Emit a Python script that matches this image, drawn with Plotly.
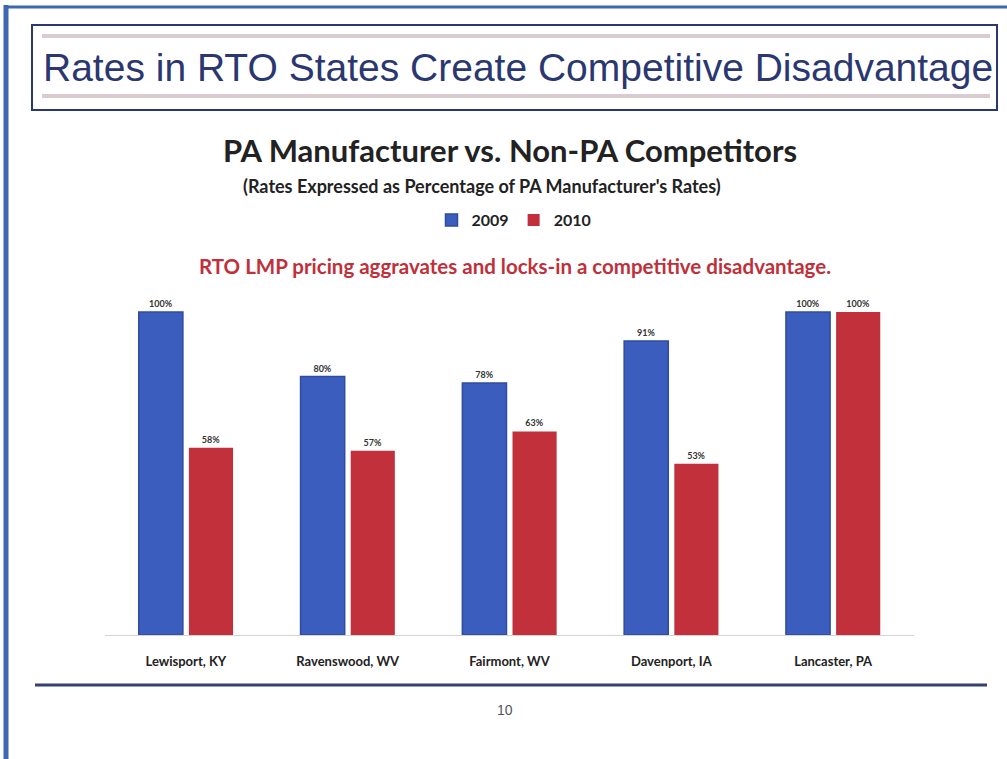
import plotly.graph_objects as go

# Sites compared and their rates as a percentage of the PA manufacturer's rate
sites = ["Lewisport, KY", "Ravenswood, WV", "Fairmont, WV", "Davenport, IA", "Lancaster, PA"]
rates_2009 = [100, 80, 78, 91, 100]
rates_2010 = [58, 57, 63, 53, 100]
series_names = ["2009", "2010"]

W, H = 1007, 759
BLUE = "#3b5dbe"
BLUE_EDGE = "#2f4c9f"
RED = "#c1303b"
NAVY = "#2b3770"
LABEL = "#333333"
CHART_FONT = "Lato"


def px(x):
    return x / W


def py(y):
    return 1 - y / H


fig = go.Figure()
fig.add_trace(go.Bar(
    name=series_names[0], x=sites, y=rates_2009,
    marker=dict(color=BLUE, line=dict(color=BLUE_EDGE, width=1.5)),
    text=[f"{v}%" for v in rates_2009], textposition="outside",
    textfont=dict(family=CHART_FONT, size=9, color=LABEL, weight="bold"),
    cliponaxis=False,
))
fig.add_trace(go.Bar(
    name=series_names[1], x=sites, y=rates_2010,
    marker=dict(color=RED, line=dict(color=RED, width=0)),
    text=[f"{v}%" for v in rates_2010], textposition="outside",
    textfont=dict(family=CHART_FONT, size=9, color=LABEL, weight="bold"),
    cliponaxis=False,
))

shapes = [
    # slide frame: top and left blue borders
    dict(type="line", xref="paper", yref="paper", x0=px(4), x1=px(1007), y0=py(7), y1=py(7),
         line=dict(color="#3d66b3", width=3)),
    dict(type="line", xref="paper", yref="paper", x0=px(6), x1=px(6), y0=py(5), y1=py(759),
         line=dict(color="#3d66b3", width=5)),
    # heading box
    dict(type="rect", xref="paper", yref="paper", x0=px(32), x1=px(997), y0=py(25), y1=py(110),
         line=dict(color=NAVY, width=2)),
    dict(type="line", xref="paper", yref="paper", x0=px(42), x1=px(990), y0=py(36), y1=py(36),
         line=dict(color="#d9ccd0", width=4)),
    dict(type="line", xref="paper", yref="paper", x0=px(42), x1=px(990), y0=py(96), y1=py(96),
         line=dict(color="#d9ccd0", width=4)),
    # footer rule
    dict(type="line", xref="paper", yref="paper", x0=px(35), x1=px(987), y0=py(685), y1=py(685),
         line=dict(color="#34416e", width=3)),
]

annotations = [
    dict(text="Rates in RTO States Create Competitive Disadvantage", xref="paper", yref="paper",
         x=px(518), y=py(68), showarrow=False, xanchor="center", yanchor="middle",
         font=dict(family="Liberation Sans", size=39, color=NAVY)),
    dict(text="<b>PA Manufacturer vs. Non-PA Competitors</b>", xref="paper", yref="paper",
         x=px(510), y=py(150), showarrow=False, xanchor="center", yanchor="middle",
         font=dict(family=CHART_FONT, size=31, color="#222222")),
    dict(text="<b>(Rates Expressed as Percentage of PA Manufacturer's Rates)</b>", xref="paper", yref="paper",
         x=px(482), y=py(186), showarrow=False, xanchor="center", yanchor="middle",
         font=dict(family=CHART_FONT, size=18, color="#222222")),
    dict(text="<b>RTO LMP pricing aggravates and locks-in a competitive disadvantage.</b>", xref="paper",
         yref="paper", x=px(515), y=py(266), showarrow=False, xanchor="center", yanchor="middle",
         font=dict(family=CHART_FONT, size=20.5, color="#c0303a")),
    dict(text="10", xref="paper", yref="paper", x=px(505), y=py(710), showarrow=False,
         xanchor="center", yanchor="middle",
         font=dict(family="Liberation Sans", size=14, color="#555555")),
]

fig.update_layout(
    width=W, height=H,
    margin=dict(l=0, r=0, t=0, b=0),
    paper_bgcolor="white", plot_bgcolor="white",
    barmode="group", bargap=0.38, bargroupgap=0.12,
    showlegend=True,
    legend=dict(orientation="h", x=px(514), y=py(220), xanchor="center", yanchor="middle",
                font=dict(family=CHART_FONT, size=16, color="#222222", weight="bold"),
                itemwidth=30, traceorder="normal"),
    xaxis=dict(domain=[px(105), px(914)], showline=True, linecolor="#d4d4d4", linewidth=1,
               ticks="", showgrid=False, ticklabelstandoff=14,
               tickfont=dict(family=CHART_FONT, size=13, color="#222222", weight="bold")),
    yaxis=dict(domain=[py(635), py(290)], range=[0, 106.8], visible=False, showgrid=False),
    shapes=shapes,
    annotations=annotations,
    font=dict(family=CHART_FONT),
)

fig.write_html("out.html")
